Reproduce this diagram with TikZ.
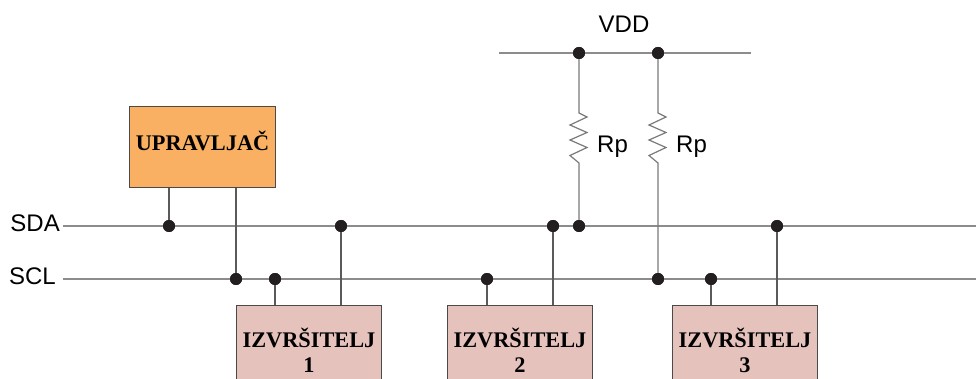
\documentclass[tikz,border=0pt]{standalone}
\usepackage{fontspec}
\setmainfont{Liberation Serif}
\newfontfamily\lsans{Liberation Sans}
\definecolor{busgray}{HTML}{8C8C8C}
\definecolor{stubgray}{HTML}{5A5A5A}
\definecolor{resgray}{HTML}{7A7A7A}
\definecolor{ctrlfill}{HTML}{F9B062}
\definecolor{slavefill}{HTML}{E6C2BD}
\definecolor{boxedge}{HTML}{4A4A4A}
\definecolor{dotblack}{HTML}{231F20}
\tikzset{
  bus/.style={draw=busgray, line width=1.3pt},
  stub/.style={draw=stubgray, line width=1.3pt},
  res/.style={draw=resgray, line width=1.2pt, line join=miter},
  jdot/.style={circle, fill=dotblack, inner sep=0pt, minimum size=12pt},
  ctrlbox/.style={draw=boxedge, line width=1pt, fill=ctrlfill, minimum width=146pt, minimum height=81pt, anchor=north west, inner sep=0pt},
  slavebox/.style={draw=boxedge, line width=1pt, fill=slavefill, minimum width=145pt, minimum height=98pt, anchor=north west, inner sep=0pt},
  boxtxt/.style={inner sep=0pt, anchor=base, align=center, font=\fontsize{22.3}{25}\selectfont\bfseries},
  lbl/.style={font=\lsans\fontsize{24}{28}\selectfont, inner sep=0pt}
}
\begin{document}
\begin{tikzpicture}[x=1pt,y=-1pt]
\clip (0,0) rectangle (976,379);
\fill[white] (0,0) rectangle (976,379);
% coordinates
\coordinate (sdaL) at (63,226);
\coordinate (sdaR) at (976,226);
\coordinate (sclL) at (63,279);
\coordinate (sclR) at (976,279);
\coordinate (vddL) at (499,53);
\coordinate (vddR) at (751,53);
\coordinate (r1t) at (579,113);
\coordinate (r1b) at (579,163);
\coordinate (r2t) at (658,113);
\coordinate (r2b) at (658,163);
% boxes
\node[ctrlbox] (ctrl) at (129,106) {};
\node[slavebox] (s1) at (236,305) {};
\node[slavebox] (s2) at (447,305) {};
\node[slavebox] (s3) at (672,305) {};
\node[boxtxt] (ctrltxt) at ([yshift=-45pt]ctrl.north) {UPRAVLJAČ};
\node[boxtxt] (s1txt) at ([yshift=-67pt]s1.north) {IZVRŠITELJ\\1};
\node[boxtxt] (s2txt) at ([yshift=-67pt]s2.north) {IZVRŠITELJ\\2};
\node[boxtxt] (s3txt) at ([yshift=-67pt]s3.north) {IZVRŠITELJ\\3};
% buses
\draw[bus] (sdaL) -- (sdaR);
\draw[bus] (sclL) -- (sclR);
\draw[bus] (vddL) -- (vddR);
% labels
\node[lbl, anchor=base east] (sdalbl) at (60,232) {SDA};
\node[lbl, anchor=base east] (scllbl) at (56,284) {SCL};
\node[lbl, anchor=base] (vddlbl) at (624,33) {VDD};
\node[lbl, anchor=base west] (rp1) at (597,153) {Rp};
\node[lbl, anchor=base west] (rp2) at (676,153) {Rp};
% junctions
\node[jdot] (d1) at (169,226) {};
\node[jdot] (d2) at (236,279) {};
\node[jdot] (d3) at (275,279) {};
\node[jdot] (d4) at (341,226) {};
\node[jdot] (d5) at (487,279) {};
\node[jdot] (d6) at (553,226) {};
\node[jdot] (d7) at (579,226) {};
\node[jdot] (d8) at (658,279) {};
\node[jdot] (d9) at (711,279) {};
\node[jdot] (d10) at (777,226) {};
\node[jdot] (v1) at (579,53) {};
\node[jdot] (v2) at (658,53) {};
% controller stubs
\draw[stub] (d1.center |- ctrl.south) -- (d1.center);
\draw[stub] (d2.center |- ctrl.south) -- (d2.center);
% slave stubs
\draw[stub] (d3.center) -- (d3.center |- s1.north);
\draw[stub] (d4.center) -- (d4.center |- s1.north);
\draw[stub] (d5.center) -- (d5.center |- s2.north);
\draw[stub] (d6.center) -- (d6.center |- s2.north);
\draw[stub] (d9.center) -- (d9.center |- s3.north);
\draw[stub] (d10.center) -- (d10.center |- s3.north);
% resistors
\draw[res] (v1.center) -- (r1t) -- ++(8,4) -- ++(-17,8) -- ++(17,7.5) -- ++(-17,7.5) -- ++(17,7.5) -- ++(-17,8) -- (r1b) -- (d7.center);
\draw[res] (v2.center) -- (r2t) -- ++(8,4) -- ++(-17,8) -- ++(17,7.5) -- ++(-17,7.5) -- ++(17,7.5) -- ++(-17,8) -- (r2b) -- (d8.center);
% redraw dots on top
\foreach \n in {d1,d2,d3,d4,d5,d6,d7,d8,d9,d10,v1,v2}{\fill[dotblack] (\n) circle (6pt);}
\end{tikzpicture}
\end{document}
